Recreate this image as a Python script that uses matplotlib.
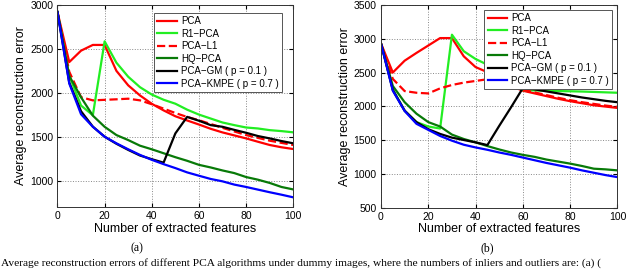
import numpy as np
import matplotlib.pyplot as plt

# number of extracted features
x = [0, 5, 10, 15, 20, 25, 30, 35, 40, 45, 50, 55, 60, 65, 70, 75, 80, 85, 90, 95, 100]

# (a)
pca_a = [2920, 2350, 2480, 2545, 2545, 2250, 2085, 1970, 1875, 1800, 1733, 1685, 1639, 1590, 1549, 1515, 1481, 1443, 1406, 1380, 1360]
r1_a = [2920, 2195, 1855, 1745, 2586, 2343, 2183, 2064, 1980, 1921, 1876, 1808, 1752, 1707, 1662, 1632, 1605, 1594, 1575, 1564, 1550]
l1_a = [2920, 2240, 1950, 1914, 1920, 1926, 1933, 1914, 1870, 1820, 1770, 1725, 1688, 1645, 1601, 1560, 1519, 1487, 1455, 1430, 1406]
hq_a = [2920, 2192, 1949, 1740, 1613, 1519, 1462, 1398, 1357, 1312, 1267, 1226, 1180, 1150, 1116, 1086, 1041, 1011, 974, 928, 900]
gm_a = [2920, 2117, 1790, 1615, 1500, 1420, 1350, 1286, 1244, 1205, 1538, 1726, 1682, 1632, 1613, 1578, 1545, 1508, 1481, 1451, 1425]
kmpe_a = [2920, 2106, 1756, 1613, 1500, 1425, 1357, 1293, 1237, 1188, 1143, 1094, 1056, 1019, 992, 955, 928, 898, 868, 840, 810]

# (b)
pca_b = [2930, 2500, 2675, 2790, 2900, 3010, 3010, 2740, 2580, 2505, 2400, 2300, 2230, 2190, 2150, 2110, 2075, 2045, 2015, 1995, 1975]
r1_b = [2930, 2250, 1935, 1765, 1700, 1670, 3060, 2815, 2700, 2615, 2480, 2340, 2240, 2235, 2230, 2225, 2222, 2218, 2212, 2206, 2200]
l1_b = [2930, 2405, 2225, 2200, 2190, 2265, 2315, 2350, 2375, 2400, 2380, 2320, 2245, 2205, 2165, 2125, 2090, 2060, 2035, 2010, 1990]
hq_b = [2930, 2300, 2060, 1890, 1765, 1700, 1580, 1515, 1465, 1410, 1360, 1315, 1280, 1250, 1210, 1180, 1150, 1115, 1075, 1065, 1050]
gm_b = [2930, 2240, 1935, 1765, 1660, 1590, 1535, 1500, 1465, 1425, 1710, 1985, 2270, 2250, 2220, 2190, 2160, 2130, 2105, 2080, 2060]
kmpe_b = [2930, 2230, 1930, 1740, 1650, 1560, 1490, 1430, 1390, 1355, 1315, 1280, 1240, 1200, 1160, 1125, 1090, 1050, 1015, 980, 950]

labels = ['PCA', 'R1\u2212PCA', 'PCA\u2212L1', 'HQ\u2212PCA',
          'PCA\u2212GM ( p = 0.1 )', 'PCA\u2212KMPE ( p = 0.7 )']
colors = ['#ff0000', '#22ee22', '#ff0000', '#087a08', '#000000', '#0000ff']
styles = ['-', '-', '--', '-', '-', '-']

plt.rcParams['font.family'] = ['Liberation Sans', 'DejaVu Sans']

fig = plt.figure(figsize=(6.4, 2.69), dpi=100)
ax1 = fig.add_axes([0.0898, 0.2305, 0.3684, 0.751])
ax2 = fig.add_axes([0.5953, 0.2286, 0.3695, 0.7528])


def draw(ax, series, ylim, yticks, leg_anchor):
    for s, lab, c, ls in zip(series, labels, colors, styles):
        ax.plot(x, s, ls, color=c, lw=1.6, label=lab)
    ax.set_xlim(0, 100)
    ax.set_ylim(*ylim)
    ax.set_xticks([0, 20, 40, 60, 80, 100])
    ax.set_yticks(yticks)
    ax.grid(True, color='#888888', linestyle=':', linewidth=0.7)
    ax.tick_params(direction='in', top=True, right=True, length=3,
                   labelsize=7.5, pad=3)
    for sp in ax.spines.values():
        sp.set_linewidth(0.7)
        sp.set_color('#333333')
    ax.set_xlabel('Number of extracted features', fontsize=9, labelpad=1)
    ax.set_ylabel('Average reconstruction error', fontsize=9, labelpad=2)
    leg = ax.legend(loc='upper right', bbox_to_anchor=leg_anchor,
                    borderaxespad=0, fontsize=7, handlelength=2.0,
                    labelspacing=0.25, handletextpad=0.4, borderpad=0.35,
                    fancybox=False, framealpha=1, edgecolor='#555555')
    leg.get_frame().set_linewidth(0.7)


draw(ax1, [pca_a, r1_a, l1_a, hq_a, gm_a, kmpe_a], (700, 3000),
     [1000, 1500, 2000, 2500, 3000], (0.952, 0.960))
draw(ax2, [pca_b, r1_b, l1_b, hq_b, gm_b, kmpe_b], (500, 3500),
     [500, 1000, 1500, 2000, 2500, 3000, 3500], (0.977, 0.975))

fig.text(137 / 640, 1 - 248 / 269, '(a)', ha='center', va='center',
         fontsize=8.5, family='Liberation Serif')
fig.text(487 / 640, 1 - 248 / 269, '(b)', ha='center', va='center',
         fontsize=8.5, family='Liberation Serif')
fig.text(0.002, 1 - 263 / 269,
         'Average reconstruction errors of different PCA algorithms under dummy images, '
         'where the numbers of inliers and outliers are: (a) (',
         ha='left', va='center', fontsize=8.2, family='Liberation Serif')

fig.savefig('out.png', dpi=100)
